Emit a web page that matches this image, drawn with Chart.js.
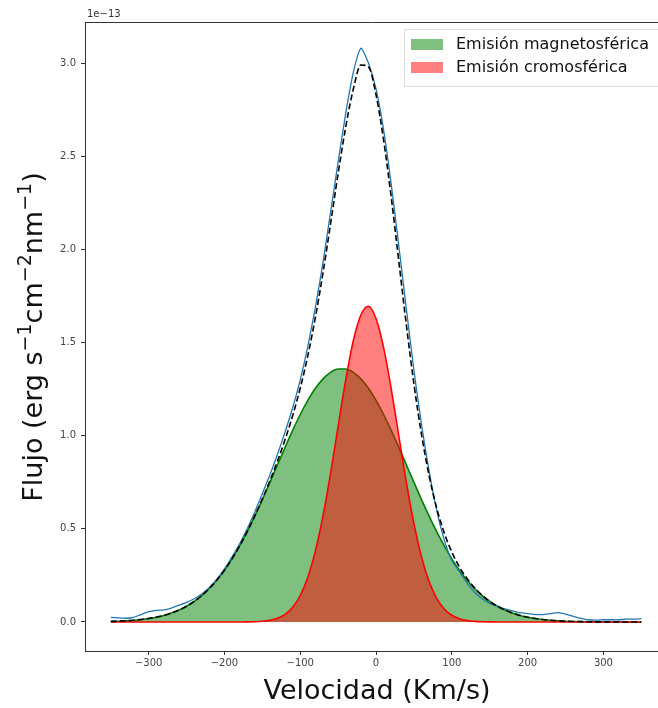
<!DOCTYPE html>
<html lang="es">
<head>
    <meta charset="UTF-8">
    <title>Flujo vs Velocidad</title>
    <script src="https://cdn.jsdelivr.net/npm/chart.js"></script>
    <style>
        body { margin: 0; background: #fff; }
        canvas { display: block; }
    </style>
</head>
<body>
    <canvas id="lineChart" width="658" height="708"></canvas>

    <script>
        // Velocity grid (km/s)
        const velocidad = [-350, -340, -330, -320, -310, -300, -290, -280, -270, -260,
            -250, -240, -230, -220, -210, -200, -190, -180, -170, -160,
            -150, -140, -130, -120, -110, -100, -90, -80, -70, -60,
            -50, -40, -30, -20, -10, 0, 10, 20, 30, 40,
            50, 60, 70, 80, 90, 100, 110, 120, 130, 140,
            150, 160, 170, 180, 190, 200, 210, 220, 230, 240,
            250, 260, 270, 280, 290, 300, 310, 320, 330, 340, 350];

        // Observed profile (x1e-13)
        const observado = [0.025, 0.022, 0.020, 0.025, 0.040, 0.055, 0.062, 0.065, 0.075, 0.090,
            0.105, 0.125, 0.150, 0.185, 0.230, 0.285, 0.350, 0.420, 0.500, 0.590,
            0.690, 0.790, 0.900, 1.020, 1.150, 1.300, 1.480, 1.690, 1.930, 2.200,
            2.470, 2.730, 2.950, 3.080, 3.000, 2.860, 2.640, 2.350, 2.020, 1.680,
            1.350, 1.060, 0.810, 0.600, 0.440, 0.330, 0.270, 0.210, 0.160, 0.125,
            0.100, 0.085, 0.070, 0.060, 0.050, 0.045, 0.040, 0.040, 0.045, 0.050,
            0.042, 0.030, 0.020, 0.012, 0.010, 0.012, 0.012, 0.012, 0.015, 0.015, 0.018];

        // Total fit (dashed)
        const ajuste = [0.0029, 0.0043, 0.0064, 0.0092, 0.0132, 0.0185, 0.0258, 0.0354, 0.048, 0.0642,
            0.0847, 0.1103, 0.1418, 0.1798, 0.2252, 0.2781, 0.3392, 0.4082, 0.4852, 0.5694,
            0.6605, 0.7585, 0.8641, 0.9791, 1.1078, 1.2559, 1.430, 1.6361, 1.8746, 2.1379,
            2.4084, 2.6571, 2.8600, 2.9900, 2.9800, 2.830, 2.5862, 2.2804, 1.9374, 1.5936,
            1.2775, 1.0062, 0.7853, 0.6117, 0.4777, 0.3752, 0.2955, 0.2331, 0.1832, 0.1432,
            0.1108, 0.0847, 0.0642, 0.048, 0.0354, 0.0258, 0.0185, 0.0132, 0.0092, 0.0064,
            0.0043, 0.0029, 0.0019, 0.0013, 0.0008, 0.0005, 0.0003, 0.0002, 0.0001, 0.0001, 0.0001];

        // Magnetospheric component
        const magnetosferica = [0.0029, 0.0043, 0.0064, 0.0092, 0.0132, 0.0185, 0.0258, 0.0354, 0.048, 0.0642,
            0.0847, 0.1103, 0.1418, 0.1798, 0.2252, 0.2781, 0.3392, 0.408, 0.4846, 0.5678,
            0.6565, 0.7492, 0.8439, 0.9379, 1.0288, 1.1137, 1.1897, 1.2543, 1.3051, 1.3399,
            1.3577, 1.3577, 1.3399, 1.3051, 1.2543, 1.1897, 1.1137, 1.0288, 0.9379, 0.8439,
            0.7492, 0.6565, 0.5678, 0.4846, 0.408, 0.3392, 0.2781, 0.2252, 0.1798, 0.1418,
            0.1103, 0.0847, 0.0642, 0.048, 0.0354, 0.0258, 0.0185, 0.0132, 0.0092, 0.0064,
            0.0043, 0.0029, 0.0019, 0.0013, 0.0008, 0.0005, 0.0003, 0.0002, 0.0001, 0.0001, 0.0001];

        // Chromospheric component
        const cromosferica = [0, 0, 0, 0, 0, 0, 0, 0, 0, 0,
            0, 0, 0, 0, 0, 0, 0, 0.0002, 0.0006, 0.0016,
            0.004, 0.0093, 0.0202, 0.0412, 0.079, 0.1422, 0.2403, 0.3818, 0.5695, 0.798,
            1.0507, 1.2994, 1.5097, 1.6478, 1.6950, 1.6273, 1.4725, 1.2516, 0.9995, 0.7497,
            0.5283, 0.3497, 0.2175, 0.1271, 0.0697, 0.036, 0.0174, 0.0079, 0.0034, 0.0014,
            0.0005, 0, 0, 0, 0, 0, 0, 0, 0, 0,
            0, 0, 0, 0, 0, 0, 0, 0, 0, 0, 0];

        const xTicks = [-300, -200, -100, 0, 100, 200, 300];
        const yTicks = [0.0, 0.5, 1.0, 1.5, 2.0, 2.5, 3.0];

        const legendItems = [
            { text: "Emisión magnetosférica", color: "rgba(0, 128, 0, 0.5)" },
            { text: "Emisión cromosférica", color: "rgba(255, 0, 0, 0.5)" }
        ];

        const toPoints = arr => arr.map((y, i) => ({ x: velocidad[i], y: y }));
        const FONT = "'DejaVu Sans', sans-serif";

        // Draw text with superscripts, segments = [text, isSuper]
        function drawRich(ctx, segs, size) {
            const supSize = Math.round(size * 0.72);
            let total = 0;
            segs.forEach(s => {
                ctx.font = (s[1] ? supSize : size) + "px " + FONT;
                total += ctx.measureText(s[0]).width;
            });
            let x = -total / 2;
            segs.forEach(s => {
                ctx.font = (s[1] ? supSize : size) + "px " + FONT;
                ctx.fillText(s[0], x, s[1] ? -size * 0.42 : 0);
                x += ctx.measureText(s[0]).width;
            });
        }

        const extras = {
            id: "extras",
            afterDraw(chart) {
                const ctx = chart.ctx;
                const area = chart.chartArea;
                ctx.save();

                // top spine
                ctx.strokeStyle = "#333";
                ctx.lineWidth = 1;
                ctx.beginPath();
                ctx.moveTo(area.left, area.top + 0.5);
                ctx.lineTo(area.right, area.top + 0.5);
                ctx.stroke();

                // offset text
                ctx.fillStyle = "#333";
                ctx.font = "10px " + FONT;
                ctx.textBaseline = "alphabetic";
                ctx.textAlign = "left";
                ctx.fillText("1e\u221213", area.left + 2, 17);

                // axis titles
                ctx.fillStyle = "#111";
                ctx.save();
                ctx.translate(377, 699);
                drawRich(ctx, [["Velocidad (Km/s)", false]], 27);
                ctx.restore();

                ctx.save();
                ctx.translate(42, 337);
                ctx.rotate(-Math.PI / 2);
                drawRich(ctx, [["Flujo (erg s", false], ["\u22121", true], ["cm", false],
                    ["\u22122", true], ["nm", false], ["\u22121", true], [")", false]], 27);
                ctx.restore();

                // legend
                ctx.fillStyle = "rgba(255,255,255,0.8)";
                ctx.strokeStyle = "#ddd";
                ctx.fillRect(404.5, 29.5, 260, 57);
                ctx.strokeRect(404.5, 29.5, 260, 57);
                legendItems.forEach((item, i) => {
                    const cy = 44 + i * 23;
                    ctx.fillStyle = item.color;
                    ctx.fillRect(411, cy - 5, 32, 11);
                    ctx.fillStyle = "#111";
                    ctx.font = "16px " + FONT;
                    ctx.textBaseline = "middle";
                    ctx.fillText(item.text, 456, cy + 1);
                });
                ctx.restore();
            }
        };

        new Chart(document.getElementById("lineChart").getContext("2d"), {
            type: "line",
            data: {
                datasets: [
                    {
                        label: "Ajuste",
                        data: toPoints(ajuste),
                        borderColor: "#000",
                        borderWidth: 1.6,
                        borderDash: [6, 3],
                        pointRadius: 0,
                        fill: false,
                        cubicInterpolationMode: "monotone",
                        order: 0
                    },
                    {
                        label: "Observado",
                        data: toPoints(observado),
                        borderColor: "#1f77b4",
                        borderWidth: 1.3,
                        pointRadius: 0,
                        fill: false,
                        tension: 0.2,
                        order: 1
                    },
                    {
                        label: "Emisión cromosférica",
                        data: toPoints(cromosferica),
                        borderColor: "red",
                        backgroundColor: "rgba(255, 0, 0, 0.5)",
                        borderWidth: 1.6,
                        pointRadius: 0,
                        fill: "origin",
                        cubicInterpolationMode: "monotone",
                        order: 2
                    },
                    {
                        label: "Emisión magnetosférica",
                        data: toPoints(magnetosferica),
                        borderColor: "green",
                        backgroundColor: "rgba(0, 128, 0, 0.5)",
                        borderWidth: 1.6,
                        pointRadius: 0,
                        fill: "origin",
                        cubicInterpolationMode: "monotone",
                        order: 3
                    }
                ]
            },
            options: {
                responsive: false,
                animation: false,
                layout: { padding: { top: 22, right: 0, left: 0, bottom: 0 } },
                plugins: {
                    legend: { display: false },
                    tooltip: { enabled: false }
                },
                scales: {
                    x: {
                        type: "linear",
                        min: -384,
                        max: 372,
                        afterBuildTicks: s => { s.ticks = xTicks.map(v => ({ value: v })); },
                        afterFit: s => { s.height = 57; },
                        grid: { drawOnChartArea: false, drawTicks: true, tickLength: 4, color: "#333" },
                        border: { display: true, color: "#333", width: 1 },
                        ticks: {
                            color: "#444",
                            font: { family: FONT, size: 10 },
                            padding: 2,
                            maxRotation: 0,
                            callback: v => (v < 0 ? "\u2212" + Math.abs(v) : String(v))
                        }
                    },
                    y: {
                        type: "linear",
                        min: -0.1557,
                        max: 3.2206,
                        afterBuildTicks: s => { s.ticks = yTicks.map(v => ({ value: v })); },
                        afterFit: s => { s.width = 85; },
                        grid: { drawOnChartArea: false, drawTicks: true, tickLength: 4, color: "#333" },
                        border: { display: true, color: "#333", width: 1 },
                        ticks: {
                            color: "#444",
                            font: { family: FONT, size: 10 },
                            padding: 5,
                            callback: v => v.toFixed(1)
                        }
                    }
                }
            },
            plugins: [extras]
        });
    </script>
</body>
</html>
